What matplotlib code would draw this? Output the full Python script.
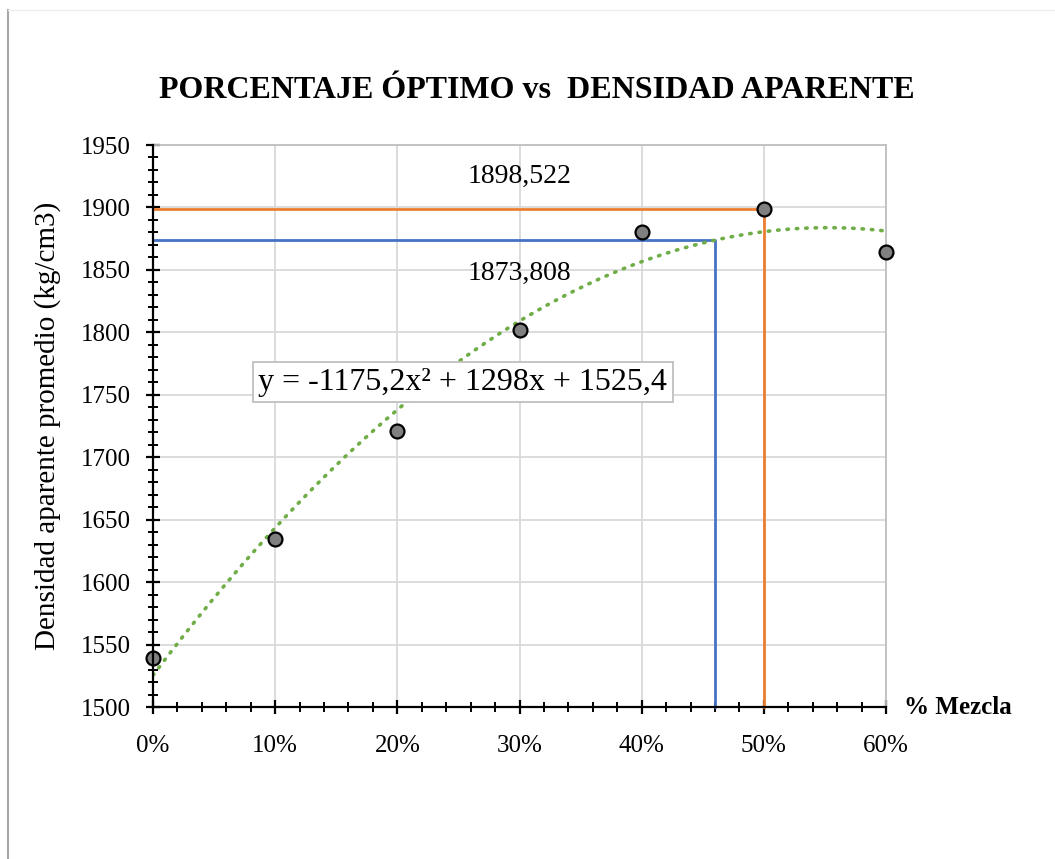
import numpy as np
import matplotlib
matplotlib.use("Agg")
import matplotlib.pyplot as plt
from matplotlib.ticker import MultipleLocator, FuncFormatter
from matplotlib.lines import Line2D

plt.rcParams['font.family'] = ['Liberation Serif', 'DejaVu Serif']

# data
mezcla = [0.0, 0.1, 0.2, 0.3, 0.4, 0.5, 0.6]
densidad = [1539, 1634.5, 1721, 1802, 1880, 1898.5, 1864]
coef = [-1175.2, 1298, 1525.4]   # trend line y = a x^2 + b x + c
opt_x = [0.46, 0.5]
opt_y = [1873.808, 1898.522]
opt_labels = ['1873,808', '1898,522']
opt_colors = ['#4472C4', '#ED7D31']

fig = plt.figure(figsize=(10.55, 8.59), dpi=100)
ax = fig.add_axes([153/1055, 1-707/859, (886-153)/1055, (707-145)/859])

# frame lines of the chart area
fig.add_artist(Line2D([8/1055, 8/1055], [0, 1-10/859], color='#A6A6A6', lw=1.5))
fig.add_artist(Line2D([8/1055, 1], [1-10/859, 1-10/859], color='#EEEEEE', lw=1))

ax.set_xlim(0, 0.6)
ax.set_ylim(1500, 1950)

# grid
ax.grid(True, which='major', color='#D9D9D9', lw=1.3)
ax.set_axisbelow(True)

# optimum guide lines
for xo, yo, c in zip(opt_x, opt_y, opt_colors):
    ax.plot([0, xo, xo], [yo, yo, 1500], color=c, lw=2, zorder=3, clip_on=False)

# trend line
xt = np.linspace(0, 0.6, 200)
yt = coef[0]*xt**2 + coef[1]*xt + coef[2]
ax.plot(xt, yt, color='#70AD47', lw=2.6, linestyle=(0, (0.4, 2.2)),
        dash_capstyle='round', zorder=4)

ax.plot(mezcla, densidad, 'o', ms=10, mfc='#808080', mec='black', mew=1.6,
        zorder=5, clip_on=False)

ax.text(0.3, 1925, opt_labels[1], ha='center', va='center', fontsize=20)
ax.text(0.3, 1847, opt_labels[0], ha='center', va='center', fontsize=20)

ax.text(0.2537, 1760, 'y = -1175,2x² + 1298x + 1525,4', ha='center', va='center',
        fontsize=23, zorder=6,
        bbox=dict(boxstyle='square,pad=0.17', fc='white', ec='#BFBFBF', lw=1.3))

# axes styling
for s in ['top', 'right']:
    ax.spines[s].set_color('#BFBFBF')
    ax.spines[s].set_linewidth(1.3)
for s in ['left', 'bottom']:
    ax.spines[s].set_color('black')
    ax.spines[s].set_linewidth(1.6)
    ax.spines[s].set_zorder(6)

ax.xaxis.set_major_locator(MultipleLocator(0.1))
ax.xaxis.set_minor_locator(MultipleLocator(0.02))
ax.yaxis.set_major_locator(MultipleLocator(50))
ax.yaxis.set_minor_locator(MultipleLocator(10))
ax.xaxis.set_major_formatter(FuncFormatter(lambda v, p: f'{v*100:.0f}%'))
ax.tick_params(which='major', direction='inout', length=10, width=1.6,
               labelsize=18, color='black')
ax.tick_params(which='minor', direction='inout', length=7.5, width=1.4, color='black')
ax.tick_params(axis='x', which='major', pad=15)
ax.tick_params(axis='y', which='major', pad=11)

ax.set_ylabel('Densidad aparente promedio (kg/cm3)', fontsize=21, labelpad=14)
fig.text(1012/1055, 1-707/859, '% Mezcla', ha='right', va='center',
         fontsize=18, fontweight='bold')

fig.text(537/1055, 1-90/859, 'PORCENTAJE ÓPTIMO vs  DENSIDAD APARENTE',
         ha='center', va='center', fontsize=23, fontweight='bold')

fig.savefig('out.png', dpi=100)
